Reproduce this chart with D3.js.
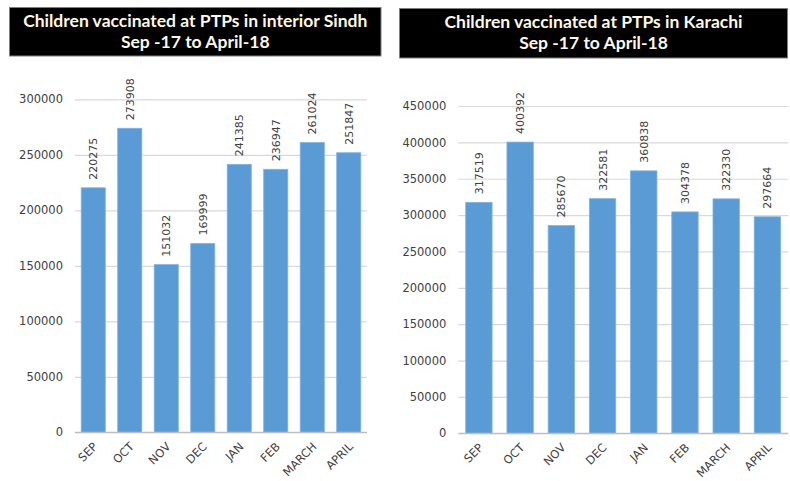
<!DOCTYPE html>
<html>
<head>
<meta charset="utf-8">
<script src="https://cdn.jsdelivr.net/npm/d3@7/dist/d3.min.js"></script>
<style>
  html, body { margin: 0; padding: 0; background: #fff; }
  svg { display: block; }
</style>
</head>
<body>
<svg id="chart" width="790" height="481"></svg>
<script>
// Monthly counts of children vaccinated at permanent transit points (PTPs)
const months = ["SEP", "OCT", "NOV", "DEC", "JAN", "FEB", "MARCH", "APRIL"];
const sindhValues = [220275, 273908, 151032, 169999, 241385, 236947, 261024, 251847];
const karachiValues = [317519, 400392, 285670, 322581, 360838, 304378, 322330, 297664];
const sindhTicks = [0, 50000, 100000, 150000, 200000, 250000, 300000];
const karachiTicks = [0, 50000, 100000, 150000, 200000, 250000, 300000, 350000, 400000, 450000];
const sindhTitle = ["Children vaccinated at PTPs in interior Sindh", "Sep -17 to April-18"];
const karachiTitle = ["Children vaccinated at PTPs in Karachi", "Sep -17 to April-18"];

const svg = d3.select("#chart");
const barColor = "#5B9BD5";
const gridColor = "#D9D9D9";
const tickFont = "'DejaVu Sans', Verdana, sans-serif";

function drawPanel(cfg) {
  const g = svg.append("g");

  // title box
  g.append("rect")
    .attr("x", cfg.box.x).attr("y", cfg.box.y)
    .attr("width", cfg.box.w).attr("height", cfg.box.h)
    .attr("fill", "#000").attr("stroke", "#7f7f7f").attr("stroke-width", 1);
  cfg.title.forEach((line, i) => {
    g.append("text")
      .attr("x", cfg.box.x + cfg.box.w / 2)
      .attr("y", cfg.box.y + 19.5 + i * 20.5)
      .attr("text-anchor", "middle")
      .attr("fill", "#FFF8E7")
      .attr("font-family", "Lato, 'Open Sans', sans-serif")
      .attr("font-weight", "bold")
      .attr("font-size", cfg.titleSize)
      .text(line);
  });

  const x = d3.scaleBand().domain(months)
    .range([cfg.left, cfg.right]).paddingInner(cfg.pad).paddingOuter(cfg.pad / 2);
  const y = d3.scaleLinear().domain([0, cfg.max]).range([cfg.bottom, cfg.top]);

  // gridlines and value axis
  const yAxis = d3.axisLeft(y).tickValues(cfg.ticks).tickSize(-(cfg.right - cfg.left))
    .tickPadding(12).tickFormat(d3.format("d"));
  const ga = g.append("g").attr("transform", `translate(${cfg.left},0)`).call(yAxis);
  ga.select(".domain").remove();
  ga.selectAll(".tick line").attr("stroke", gridColor).attr("stroke-width", 1.2);
  ga.selectAll(".tick text")
    .attr("fill", "#404040")
    .attr("font-family", tickFont)
    .attr("font-size", 11.5);

  // bars
  g.selectAll("rect.bar").data(cfg.values).join("rect")
    .attr("class", "bar")
    .attr("x", (d, i) => x(months[i]))
    .attr("width", x.bandwidth())
    .attr("y", d => y(d))
    .attr("height", d => cfg.bottom - y(d))
    .attr("fill", barColor)
    .attr("stroke", "#7FB2E0").attr("stroke-width", 0.8);

  // baseline
  g.append("line")
    .attr("x1", cfg.left).attr("x2", cfg.right)
    .attr("y1", cfg.bottom).attr("y2", cfg.bottom)
    .attr("stroke", "#BFBFBF").attr("stroke-width", 1.2);

  // value labels, vertical
  g.selectAll("text.val").data(cfg.values).join("text")
    .attr("class", "val")
    .attr("transform", (d, i) => `translate(${x(months[i]) + x.bandwidth() / 2 + 4},${y(d) - 8}) rotate(-90)`)
    .attr("fill", "#404040")
    .attr("font-family", tickFont)
    .attr("font-size", 11)
    .text(d => d);

  // month labels, slanted
  g.selectAll("text.cat").data(months).join("text")
    .attr("class", "cat")
    .attr("transform", m => `translate(${x(m) + x.bandwidth() / 2 + 5},${cfg.bottom + 15}) rotate(-45)`)
    .attr("text-anchor", "end")
    .attr("fill", "#404040")
    .attr("font-family", tickFont)
    .attr("font-size", 11.5)
    .text(m => m);
}

drawPanel({
  title: sindhTitle, titleSize: 17.5,
  box: { x: 9.5, y: 7.5, w: 371.5, h: 48.5 },
  values: sindhValues, ticks: sindhTicks, max: 300000,
  left: 75, right: 367, top: 99.3, bottom: 432.3, pad: 0.34
});

drawPanel({
  title: karachiTitle, titleSize: 17.5,
  box: { x: 399.5, y: 8.5, w: 388, h: 49.5 },
  values: karachiValues, ticks: karachiTicks, max: 450000,
  left: 458.3, right: 788, top: 106, bottom: 433.3, pad: 0.36
});
</script>
</body>
</html>
